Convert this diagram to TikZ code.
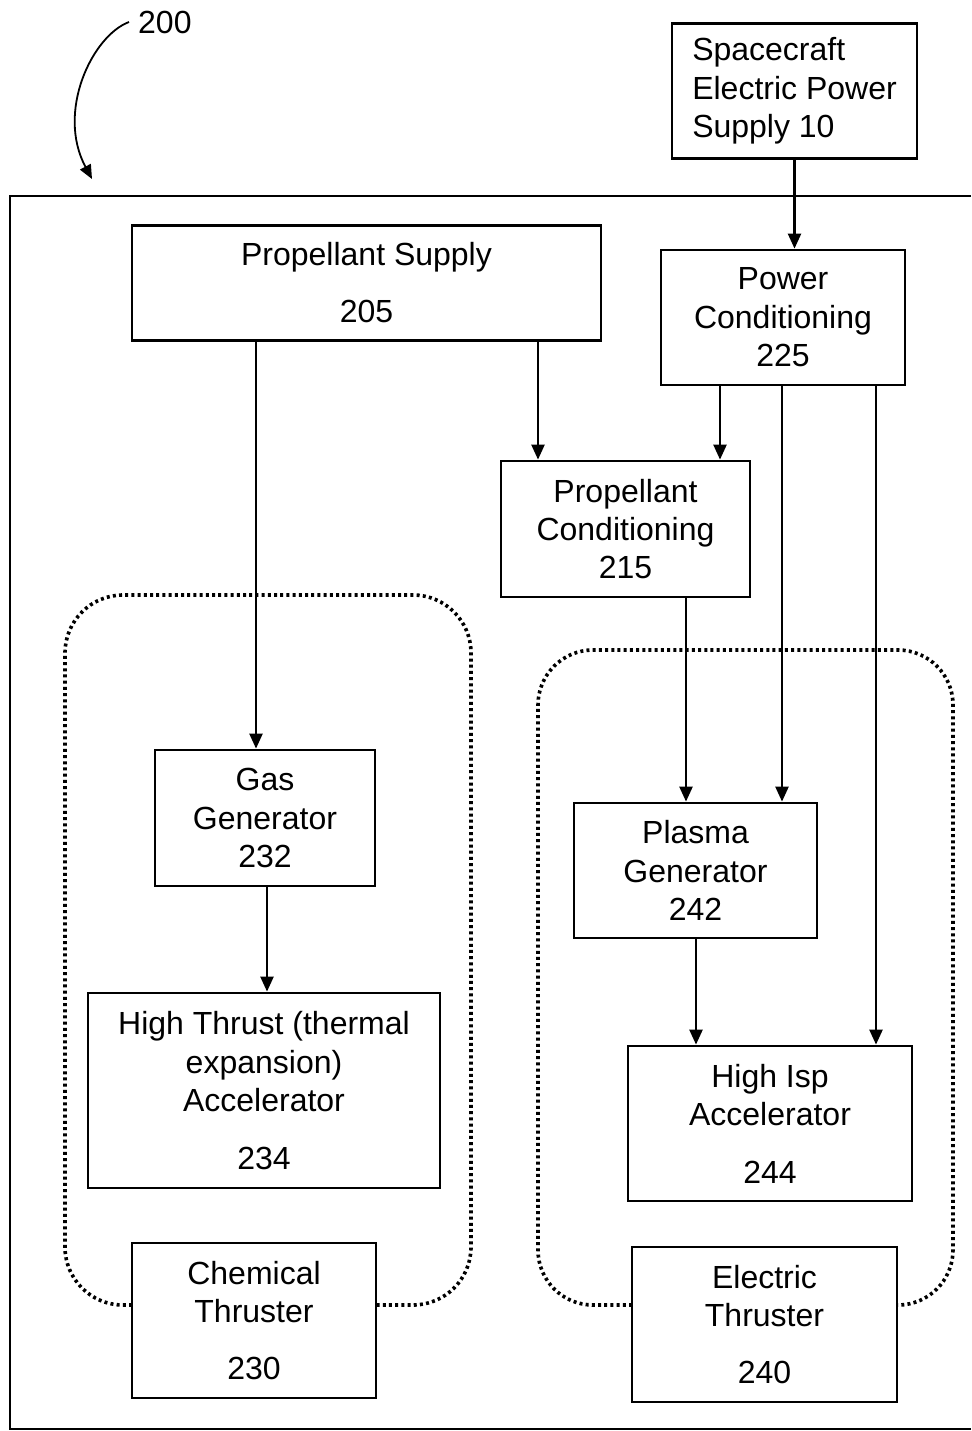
\documentclass[tikz,border=0pt]{standalone}
\usepackage{fontspec}
\setmainfont{Liberation Sans}
\usetikzlibrary{arrows.meta}
\begin{document}
\begin{tikzpicture}[x=1pt,y=-1pt,
  font=\fontsize{32}{38.4}\selectfont,
  box/.style={draw, line width=2.8pt, inner sep=0pt, align=center},
  arr/.style={line width=2.4pt, -{Triangle[length=15pt,width=13pt]}},
  grp/.style={line width=3.6pt, dash pattern=on 3pt off 3.2pt, rounded corners=58pt}]
\useasboundingbox (0,0) rectangle (971,1431);
% outer frame
\draw[line width=2.8pt] (971,196) -- (10,196) -- (10,1429) -- (971,1429);
% boxes
\node[box, align=left, minimum width=245pt, minimum height=135pt] (sc) at (794.5,91) {Spacecraft\\Electric Power\\Supply 10};
\node[box, minimum width=469pt, minimum height=115pt] (ps) at (366.5,283) {Propellant Supply\\[18.6pt]205};
\node[box, minimum width=244pt, minimum height=135pt] (pc) at (783,317.5) {Power\\Conditioning\\225};
\node[box, minimum width=249pt, minimum height=136pt] (pcond) at (625.5,529) {Propellant\\Conditioning\\215};
\node[box, minimum width=220pt, minimum height=136pt] (gg) at (265,818) {Gas\\Generator\\232};
\node[box, minimum width=352pt, minimum height=195pt] (ht) at (264,1090.5) {High Thrust (thermal\\expansion)\\Accelerator\\[19pt]234};
\node[box, minimum width=243pt, minimum height=135pt] (pg) at (695.5,870.5) {Plasma\\Generator\\242};
\node[box, minimum width=284pt, minimum height=155pt] (hi) at (770,1123.5) {High Isp\\Accelerator\\[19pt]244};
% thruster groups (drawn before the thruster boxes)
\draw[grp] (132,1305) -- (65,1305) -- (65,595) -- (471,595) -- (471,1305) -- (376,1305);
\draw[grp, rounded corners=55pt] (632,1305) -- (538,1305) -- (538,650) -- (953,650) -- (953,1305) -- (897,1305);
\node[box, fill=white, minimum width=244pt, minimum height=155pt] (ct) at (254,1320.5) {Chemical\\Thruster\\[19pt]230};
\node[box, fill=white, minimum width=265pt, minimum height=155pt] (et) at (764.5,1324.5) {Electric\\Thruster\\[19pt]240};
% label 200
\node[inner sep=0pt, anchor=west] (lbl) at (138,22) {200};
\coordinate (tip) at (92,179);
\draw[line width=1.8pt, -{Triangle[length=14pt,width=12pt]}] ([xshift=-9pt]lbl.west) .. controls (92,36) and (56,112) .. (tip);
% connectors
\draw[arr] (sc.south) -- (sc.south |- pc.north);
\draw[arr] (538,0 |- ps.south) -- (538,0 |- pcond.north);
\draw[arr] (256,0 |- ps.south) -- (256,0 |- gg.north);
\draw[arr] (720,0 |- pc.south) -- (720,0 |- pcond.north);
\draw[arr] (782,0 |- pc.south) -- (782,0 |- pg.north);
\draw[arr] (876,0 |- pc.south) -- (876,0 |- hi.north);
\draw[arr] (686,0 |- pcond.south) -- (686,0 |- pg.north);
\draw[arr] (267,0 |- gg.south) -- (267,0 |- ht.north);
\draw[arr] (696,0 |- pg.south) -- (696,0 |- hi.north);
\end{tikzpicture}
\end{document}
